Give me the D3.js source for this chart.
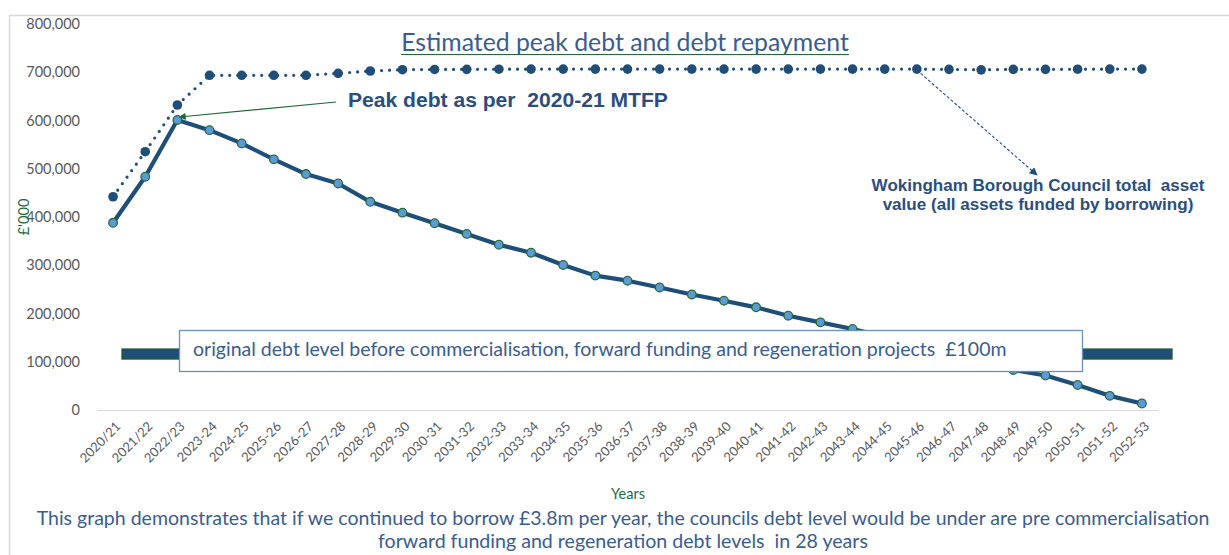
<!DOCTYPE html>
<html>
<head>
<meta charset="utf-8">
<script src="https://cdn.jsdelivr.net/npm/d3@7"></script>
<style>
  body { margin: 0; background: #fff; }
  svg { display: block; }
</style>
</head>
<body>
<div id="chart"></div>
<script>
// chart data
var years = ["2020/21", "2021/22", "2022/23", "2023-24", "2024-25", "2025-26", "2026-27", "2027-28",
  "2028-29", "2029-30", "2030-31", "2031-32", "2032-33", "2033-34", "2034-35", "2035-36", "2036-37",
  "2037-38", "2038-39", "2039-40", "2040-41", "2041-42", "2042-43", "2043-44", "2044-45", "2045-46",
  "2046-47", "2047-48", "2048-49", "2049-50", "2050-51", "2051-52", "2052-53"];

var peakDebt = [388000, 483500, 601000, 580000, 552500, 519500, 489000, 469500, 431500, 409000,
  387000, 365000, 342500, 326000, 300500, 278500, 268000, 254000, 239500, 226500, 212800, 195400,
  181700, 167900, 152000, 136000, 119000, 101000, 83000, 71500, 51800, 29300, 13500];

var assetValue = [442000, 535300, 632100, 693700, 693700, 693700, 693700, 697800, 702600, 705300,
  705800, 706000, 706300, 706500, 706500, 706500, 706500, 706500, 706500, 706500, 706500, 706500,
  706500, 706500, 706500, 706500, 706000, 705000, 706000, 706000, 706300, 706500, 706500];

var originalDebtLevel = 116000;
var yTicks = [0, 100000, 200000, 300000, 400000, 500000, 600000, 700000, 800000];

var navy = "#1f4e79";
var green = "#1e6b3a";
var textBlue = "#3a5d8f";

var svgWidth = 1229;
var svgHeight = 555;

var svg = d3.select("#chart")
  .append("svg")
    .attr("width", svgWidth)
    .attr("height", svgHeight)
    .style("font-family", "Lato, 'Open Sans', sans-serif");

// shrink/grow a text to a given width
function fitWidth(sel, w) {
  var len = sel.node().getComputedTextLength();
  var fs = parseFloat(sel.style("font-size"));
  sel.style("font-size", (fs * w / len) + "px");
}

// chart frame
svg.append("path")
  .attr("d", "M9.5,555 V15.5 H1229")
  .attr("fill", "none")
  .attr("stroke", "#d9d9d9")
  .attr("stroke-width", 1.5);

var x = d3.scaleBand()
  .domain(years)
  .range([97, 1158]);

var y = d3.scaleLinear()
  .domain([0, 800000])
  .range([410, 24]);

var xPos = function(i) { return x(years[i]) + x.bandwidth() / 2; };

// y axis
var yAxis = svg.append("g")
  .attr("transform", "translate(97,0)")
  .call(d3.axisLeft(y).tickValues(yTicks).tickSize(0).tickPadding(17).tickFormat(d3.format(",")));
yAxis.select(".domain").remove();
yAxis.selectAll("text")
  .attr("fill", "#595959")
  .style("font-family", "Lato, sans-serif")
  .style("font-size", "14.5px");

// x axis
var xAxis = svg.append("g")
  .attr("transform", "translate(0,410)")
  .call(d3.axisBottom(x).tickSize(0).tickPadding(0));
xAxis.select(".domain").attr("stroke", "#d9d9d9").attr("stroke-width", 1.2);
xAxis.selectAll("text")
  .attr("fill", "#595959")
  .attr("text-anchor", "end")
  .attr("y", 0)
  .attr("dy", "0.35em")
  .attr("transform", "translate(5,14) rotate(-45)")
  .style("font-family", "Lato, sans-serif")
  .style("font-size", "13px");

// original debt level bar
svg.append("rect")
  .attr("x", 122)
  .attr("y", y(originalDebtLevel) - 5)
  .attr("width", 1172 - 122)
  .attr("height", 10)
  .attr("fill", navy)
  .attr("stroke", "#1d5e35")
  .attr("stroke-width", 1.3);

// asset value (dotted)
var line = d3.line()
  .x(function(d, i) { return xPos(i); })
  .y(function(d) { return y(d); });

svg.append("path")
  .datum(assetValue)
  .attr("d", line)
  .attr("fill", "none")
  .attr("stroke", navy)
  .attr("stroke-width", 3.2)
  .attr("stroke-linecap", "round")
  .attr("stroke-dasharray", "0 8");

svg.append("g").selectAll("circle")
  .data(assetValue)
  .enter().append("circle")
    .attr("cx", function(d, i) { return xPos(i); })
    .attr("cy", function(d) { return y(d); })
    .attr("r", 4.8)
    .attr("fill", navy);

// peak debt (solid)
svg.append("path")
  .datum(peakDebt)
  .attr("d", line)
  .attr("fill", "none")
  .attr("stroke", navy)
  .attr("stroke-width", 4.2)
  .attr("stroke-linejoin", "round");

svg.append("g").selectAll("circle")
  .data(peakDebt)
  .enter().append("circle")
    .attr("cx", function(d, i) { return xPos(i); })
    .attr("cy", function(d) { return y(d); })
    .attr("r", 4.3)
    .attr("fill", "#5b9bd5")
    .attr("stroke", "#2a6b3c")
    .attr("stroke-width", 1.3);

// text box over the bar
svg.append("rect")
  .attr("x", 179.5)
  .attr("y", 330.5)
  .attr("width", 903)
  .attr("height", 41)
  .attr("fill", "#fff")
  .attr("stroke", "#6b8fbf")
  .attr("stroke-width", 1.3);

var boxText = svg.append("text")
  .attr("x", 193)
  .attr("y", 356)
  .attr("fill", textBlue)
  .style("font-size", "16px")
  .style("white-space", "pre")
  .text("original debt level before commercialisation, forward funding and regeneration projects  £100m");
fitWidth(boxText, 814);

// title
var title = svg.append("text")
  .attr("x", 625)
  .attr("y", 51)
  .attr("text-anchor", "middle")
  .attr("fill", textBlue)
  .style("font-size", "21px")
  .text("Estimated peak debt and debt repayment");
fitWidth(title, 448);
svg.append("line")
  .attr("x1", 401).attr("x2", 849)
  .attr("y1", 54.5).attr("y2", 54.5)
  .attr("stroke", green)
  .attr("stroke-width", 1.2);

// arrow markers
var defs = svg.append("defs");
defs.append("marker")
  .attr("id", "arrowGreen")
  .attr("viewBox", "0 0 10 10")
  .attr("refX", 9).attr("refY", 5)
  .attr("markerWidth", 9).attr("markerHeight", 7)
  .attr("orient", "auto")
  .attr("markerUnits", "userSpaceOnUse")
  .append("path").attr("d", "M0,0 L10,5 L0,10 z").attr("fill", green);
defs.append("marker")
  .attr("id", "arrowNavy")
  .attr("viewBox", "0 0 10 10")
  .attr("refX", 9).attr("refY", 5)
  .attr("markerWidth", 10).attr("markerHeight", 8)
  .attr("orient", "auto")
  .attr("markerUnits", "userSpaceOnUse")
  .append("path").attr("d", "M0,0 L10,5 L0,10 z").attr("fill", navy);

// peak debt annotation
svg.append("line")
  .attr("x1", 336).attr("y1", 102)
  .attr("x2", xPos(2) + 2).attr("y2", y(peakDebt[2]) - 3)
  .attr("stroke", green)
  .attr("stroke-width", 1.1)
  .attr("marker-end", "url(#arrowGreen)");

var peakText = svg.append("text")
  .attr("x", 348)
  .attr("y", 107)
  .attr("fill", "#2c4e7e")
  .style("font-family", "'Liberation Sans', Arial, sans-serif")
  .style("font-weight", "bold")
  .style("font-size", "17px")
  .style("white-space", "pre")
  .text("Peak debt as per  2020-21 MTFP");
fitWidth(peakText, 320);

// asset value annotation
svg.append("line")
  .attr("x1", xPos(25)).attr("y1", y(assetValue[25]) + 1)
  .attr("x2", 1037).attr("y2", 175)
  .attr("stroke", navy)
  .attr("stroke-width", 1.1)
  .attr("stroke-dasharray", "3 2")
  .attr("marker-end", "url(#arrowNavy)");

var assetLines = ["Wokingham Borough Council total  asset", "value (all assets funded by borrowing)"];
var assetWidths = [333, 311];
assetLines.forEach(function(t, i) {
  var tx = svg.append("text")
    .attr("x", 1038)
    .attr("y", 191 + i * 19)
    .attr("text-anchor", "middle")
    .attr("fill", "#2c4e7e")
    .style("font-family", "'Liberation Sans', Arial, sans-serif")
    .style("font-weight", "bold")
    .style("font-size", "14px")
    .style("white-space", "pre")
    .text(t);
  fitWidth(tx, assetWidths[i]);
});

// axis titles
svg.append("text")
  .attr("transform", "translate(29,217) rotate(-90)")
  .attr("text-anchor", "middle")
  .attr("fill", green)
  .style("font-size", "14.5px")
  .text("£'000");

svg.append("text")
  .attr("x", 628)
  .attr("y", 499)
  .attr("text-anchor", "middle")
  .attr("fill", green)
  .style("font-size", "14.5px")
  .text("Years");

// footnote
var notes = ["This graph demonstrates that if we continued to borrow £3.8m per year, the councils debt level would be under are pre commercialisation",
  "forward funding and regeneration debt levels  in 28 years"];
var noteWidths = [1173, 490];
notes.forEach(function(t, i) {
  var tx = svg.append("text")
    .attr("x", 623)
    .attr("y", 525 + i * 23)
    .attr("text-anchor", "middle")
    .attr("fill", textBlue)
    .style("font-size", "17px")
    .style("white-space", "pre")
    .text(t);
  fitWidth(tx, noteWidths[i]);
});
</script>
</body>
</html>
